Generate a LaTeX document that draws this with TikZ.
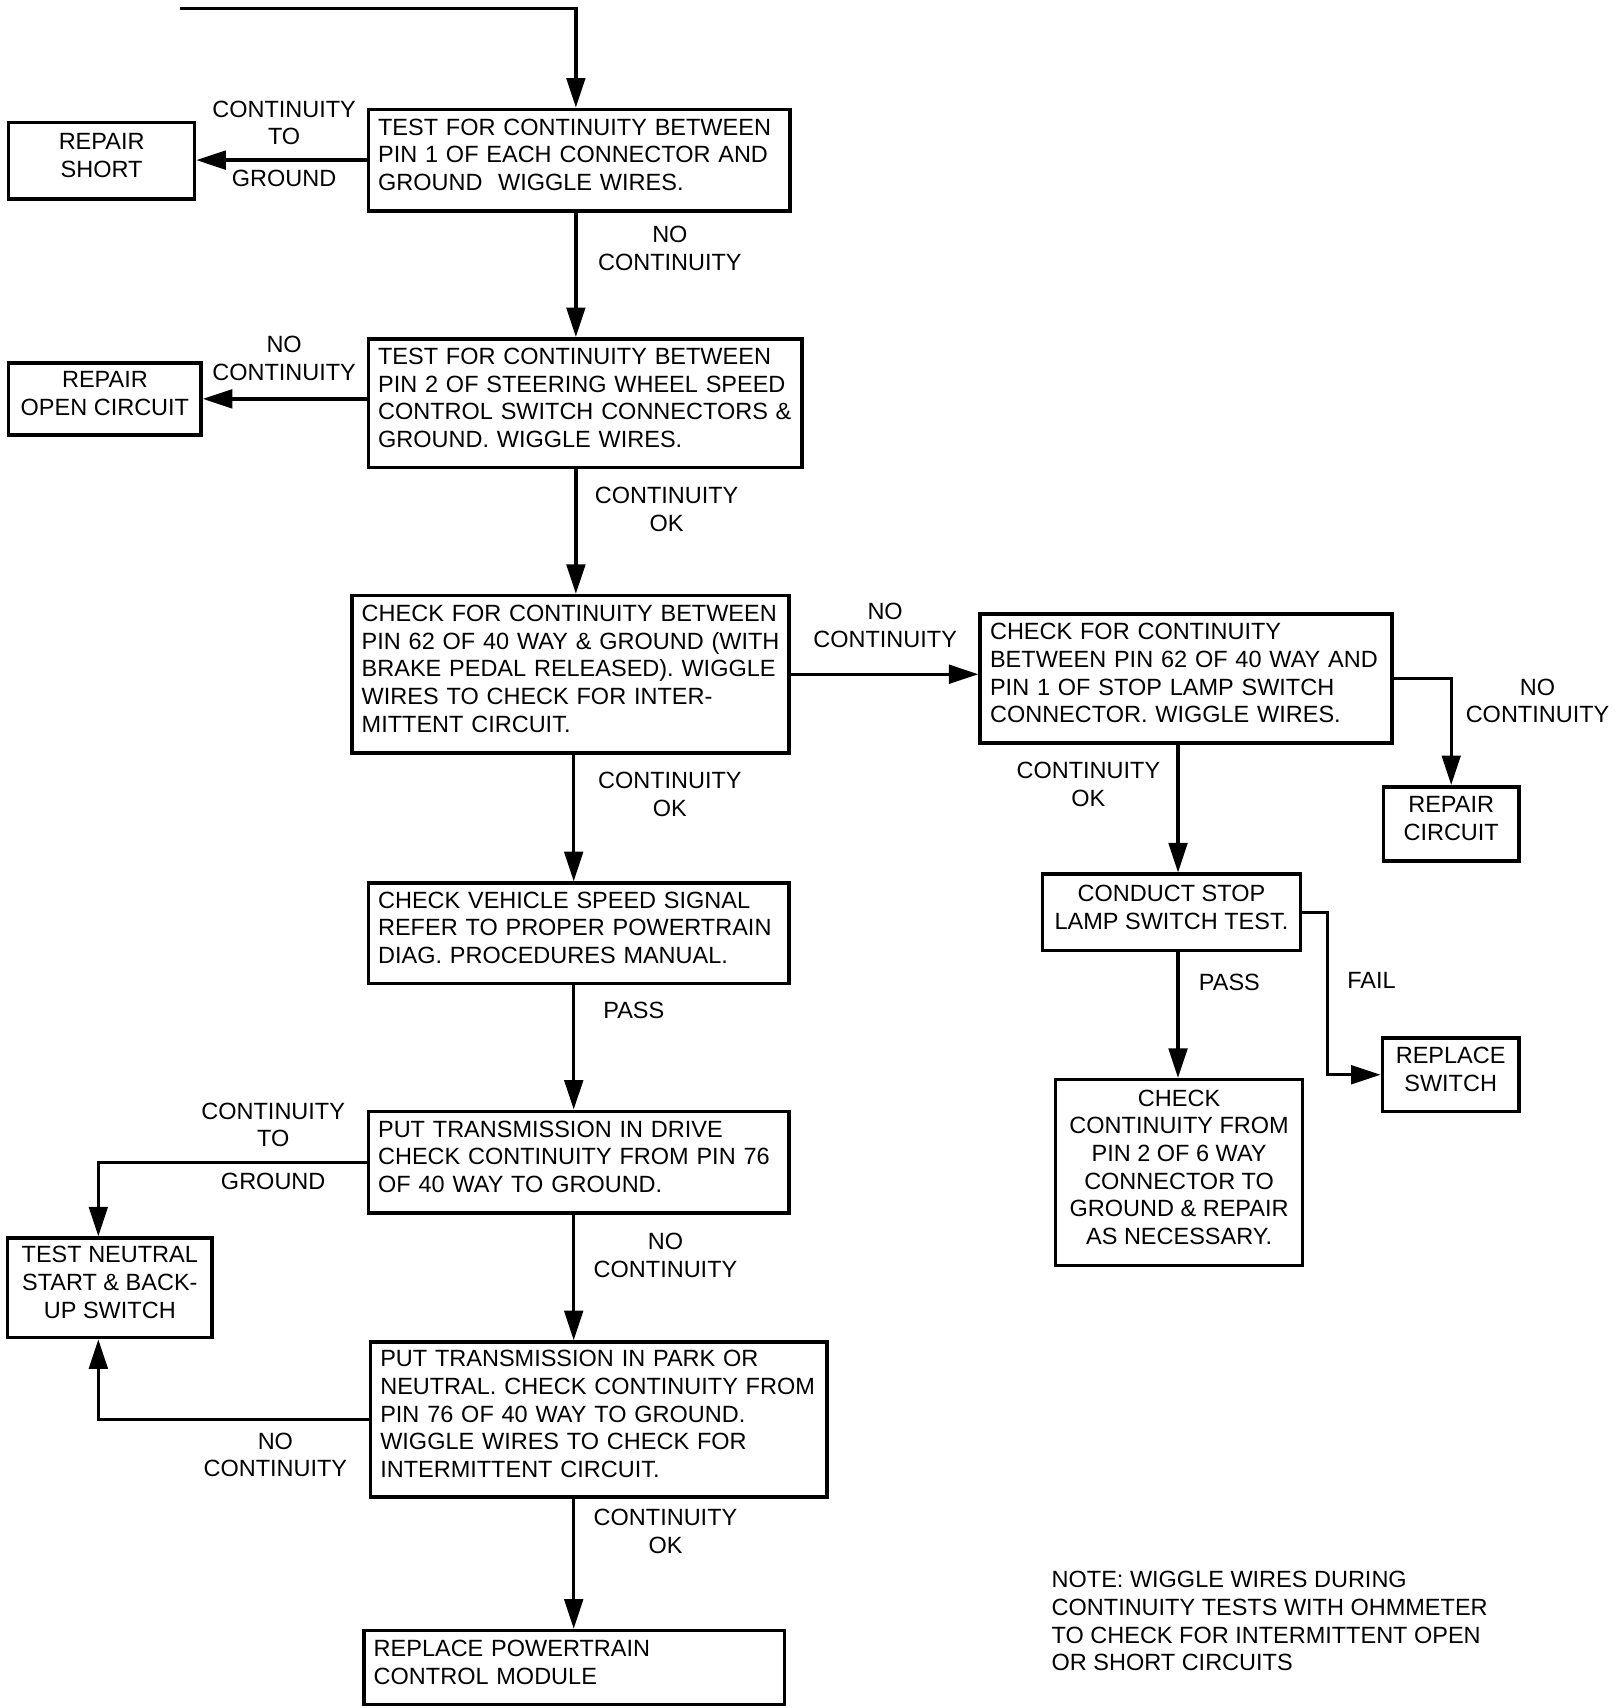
\documentclass[tikz,border=0pt]{standalone}
\usepackage{fontspec}
\setmainfont{Liberation Sans}
\usetikzlibrary{arrows.meta}
\newcommand{\one}[1]{\mbox{#1}}
\begin{document}
\begin{tikzpicture}[x=0.5pt,y=-0.5pt,
  every node/.style={font=\fontsize{10.75pt}{12.65pt}\selectfont, inner sep=0pt},
  bx/.style={draw, line width=1.6pt, rectangle, execute at end node={\rule[-5pt]{0pt}{0pt}}},
  lft/.style={bx, align=left, inner xsep=4.5pt, inner ysep=0pt},
  ctr/.style={bx, align=center},
  lbl/.style={align=center},
  arr/.style={line width=1.5pt, -{Triangle[length=13.5pt,width=8.5pt]}},
  ln/.style={line width=1.5pt}]
\fill[white] (0,0) rectangle (1479,1563);
\useasboundingbox (0,0) rectangle (1479,1563);

% boxes
\node[lft, text width=184pt, minimum height=46.5pt] (b1) at (530,146.5)
  {\one{TEST FOR CONTINUITY BETWEEN}\\\one{PIN 1 OF EACH CONNECTOR AND}\\\one{GROUND\ \ WIGGLE WIRES.}};
\node[ctr, minimum width=85pt, minimum height=35pt] (short) at (93,147) {REPAIR\\SHORT};
\node[lft, text width=189.5pt, minimum height=59pt] (b2) at (535.5,369)
  {\one{TEST FOR CONTINUITY BETWEEN}\\\one{PIN 2 OF STEERING WHEEL SPEED}\\\one{CONTROL SWITCH CONNECTORS \&}\\\one{GROUND. WIGGLE WIRES.}};
\node[ctr, minimum width=88pt, minimum height=33pt] (open) at (96,365) {REPAIR\\OPEN CIRCUIT};
\node[lft, text width=191pt, minimum height=72pt] (b3) at (522,617)
  {\one{CHECK FOR CONTINUITY BETWEEN}\\\one{PIN 62 OF 40 WAY \& GROUND (WITH}\\\one{BRAKE PEDAL RELEASED). WIGGLE}\\\one{WIRES TO CHECK FOR INTER-}\\\one{MITTENT CIRCUIT.}};
\node[lft, text width=179.5pt, minimum height=59pt] (b4) at (1085.5,621)
  {\one{CHECK FOR CONTINUITY}\\\one{BETWEEN PIN 62 OF 40 WAY AND}\\\one{PIN 1 OF STOP LAMP SWITCH}\\\one{CONNECTOR. WIGGLE WIRES.}};
\node[ctr, minimum width=62pt, minimum height=34pt] (rcirc) at (1328,754) {REPAIR\\CIRCUIT};
\node[ctr, minimum width=118pt, minimum height=35pt] (conduct) at (1072,835) {CONDUCT STOP\\LAMP SWITCH TEST.};
\node[ctr, minimum width=62.5pt, minimum height=33.5pt] (rswitch) at (1327.5,983.5) {REPLACE\\SWITCH};
\node[ctr, minimum width=113pt, minimum height=85pt] (check) at (1079,1073)
  {CHECK\\CONTINUITY FROM\\PIN 2 OF 6 WAY\\CONNECTOR TO\\GROUND \& REPAIR\\AS NECESSARY.};
\node[lft, text width=183.5pt, minimum height=46pt] (veh) at (529.5,854)
  {\one{CHECK VEHICLE SPEED SIGNAL}\\\one{REFER TO PROPER POWERTRAIN}\\\one{DIAG. PROCEDURES MANUAL.}};
\node[lft, text width=183.5pt, minimum height=46.5pt] (drive) at (529.5,1063.5)
  {\one{PUT TRANSMISSION IN DRIVE}\\\one{CHECK CONTINUITY FROM PIN 76}\\\one{OF 40 WAY TO GROUND.}};
\node[ctr, minimum width=93.5pt, minimum height=45.5pt] (neutral) at (100.5,1178.5)
  {TEST NEUTRAL\\START \& BACK-\\UP SWITCH};
\node[lft, text width=200pt, minimum height=71pt] (park) at (548,1299)
  {\one{PUT TRANSMISSION IN PARK OR}\\\one{NEUTRAL. CHECK CONTINUITY FROM}\\\one{PIN 76 OF 40 WAY TO GROUND.}\\\one{WIGGLE WIRES TO CHECK FOR}\\\one{INTERMITTENT CIRCUIT.}};
\node[lft, text width=183.5pt, minimum height=34pt] (pcm) at (525.5,1526)
  {\one{REPLACE POWERTRAIN}\\\one{CONTROL MODULE}};
\node[align=left, anchor=west] (note) at (962,1483.5)
  {NOTE: WIGGLE WIRES DURING\\CONTINUITY TESTS WITH OHMMETER\\TO CHECK FOR INTERMITTENT OPEN\\OR SHORT CIRCUITS};

% helper coordinates
\coordinate (start) at (165,8);
\coordinate (c1) at (527,8);
\coordinate (c2) at (1078,0);
\coordinate (c3) at (525,0);
\coordinate (c4) at (90,0);
\coordinate (cf) at (1215,0);

% connectors
\draw[arr] (start) -- (c1) -- (c1 |- b1.north);
\draw[arr] (b1.west) -- (b1.west -| short.east);
\draw[arr] (b1.south -| c1) -- (b2.north -| c1);
\draw[arr] (b2.west |- open.east) -- (open.east);
\draw[arr] (b2.south -| c1) -- (b3.north -| c1);
\draw[arr] (b3.east) -- (b3.east -| b4.west);
\draw[arr] (b4.east) -| (rcirc.north);
\draw[arr] (b4.south -| c2) -- (conduct.north -| c2);
\draw[arr] (conduct.south -| c2) -- (check.north -| c2);
\draw[arr] (conduct.east) -- (conduct.east -| cf) |- (rswitch.west);
\draw[arr] (b3.south -| c3) -- (veh.north -| c3);
\draw[arr] (veh.south -| c3) -- (drive.north -| c3);
\draw[arr] (drive.south -| c3) -- (park.north -| c3);
\draw[arr] (park.south -| c3) -- (pcm.north -| c3);
\draw[arr] (drive.west) -- (drive.west -| c4) -- (neutral.north -| c4);
\draw[arr] (park.west) -- (park.west -| c4) -- (neutral.south -| c4);

% labels
\node[lbl] (l1a) at (260,112.5) {CONTINUITY\\TO};
\node[lbl] (l1b) at (260,163) {GROUND};
\node[lbl] (l2) at (613,227.5) {NO\\CONTINUITY};
\node[lbl] (l3) at (260,328) {NO\\CONTINUITY};
\node[lbl] (l4) at (610,466) {CONTINUITY\\OK};
\node[lbl] (l5) at (810,572.5) {NO\\CONTINUITY};
\node[lbl] (l6) at (1407,641.5) {NO\\CONTINUITY};
\node[lbl] (l7) at (996,718) {CONTINUITY\\OK};
\node[lbl] (l8) at (613,727) {CONTINUITY\\OK};
\node[lbl] (l9) at (1125,899) {PASS};
\node[lbl] (l9b) at (1255,897) {FAIL};
\node[lbl] (l10) at (580,925) {PASS};
\node[lbl] (l11a) at (250,1029.5) {CONTINUITY\\TO};
\node[lbl] (l11b) at (250,1081) {GROUND};
\node[lbl] (l12) at (609,1149) {NO\\CONTINUITY};
\node[lbl] (l13) at (252,1331.5) {NO\\CONTINUITY};
\node[lbl] (l14) at (609,1401.5) {CONTINUITY\\OK};
\end{tikzpicture}
\end{document}
